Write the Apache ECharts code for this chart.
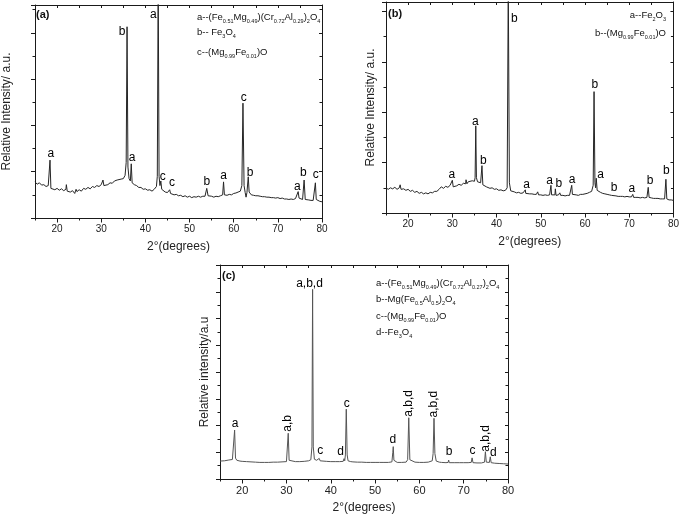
<!DOCTYPE html>
<html>
<head>
<meta charset="utf-8">
<script src="https://cdn.jsdelivr.net/npm/echarts@6/dist/echarts.min.js"></script>
<style>
html,body{margin:0;padding:0;background:#fff;}
#chart{width:682px;height:518px;}
</style>
</head>
<body>
<div id="chart"></div>
<script>
// ---------------- DATA ----------------
const degreeTicks = [20, 30, 40, 50, 60, 70, 80];

// Panel (a) pattern: [2theta, intensity]
const patternA = [[15,0.78],[15.5,0.73],[16,0.76],[16.5,0.71],[17,0.72],[17.5,0.68],[18,0.70],[18.2,0.66],[18.4,1.25],[18.6,0.64],[19,0.66],[19.5,0.61],[20,0.64],[20.5,0.60],[21,0.63],[21.5,0.59],[22,0.62],[22.1,0.72],[22.3,0.58],[22.5,0.60],[23,0.56],[23.5,0.59],[24,0.53],[24.3,0.62],[24.5,0.57],[25,0.61],[25.5,0.58],[26,0.64],[26.5,0.62],[27,0.66],[27.5,0.63],[28,0.68],[28.5,0.66],[29,0.70],[29.5,0.68],[30,0.72],[30.4,0.82],[30.6,0.70],[31,0.74],[31.5,0.72],[32,0.76],[32.5,0.75],[33,0.80],[33.3,0.76],[33.6,0.82],[34,0.80],[34.5,0.84],[35,0.85],[35.4,0.92],[35.65,1.2],[35.85,4.13],[36.05,1.1],[36.3,0.85],[36.6,0.80],[36.8,1.17],[37.0,0.76],[37.5,0.72],[38,0.70],[38.5,0.66],[39,0.66],[39.5,0.62],[40,0.63],[40.5,0.60],[41,0.61],[41.5,0.58],[42,0.62],[42.5,0.68],[42.7,0.9],[42.9,5.2],[43.1,0.9],[43.3,0.70],[43.5,0.80],[43.7,0.62],[44,0.58],[44.5,0.56],[45,0.55],[45.5,0.61],[45.7,0.53],[46,0.53],[46.5,0.50],[47,0.51],[47.5,0.48],[48,0.49],[48.5,0.46],[49,0.48],[49.5,0.45],[50,0.47],[50.5,0.44],[51,0.46],[51.5,0.45],[52,0.47],[52.5,0.45],[53,0.47],[53.5,0.47],[53.9,0.64],[54.2,0.48],[54.5,0.46],[55,0.47],[55.5,0.45],[56,0.47],[56.5,0.46],[57,0.48],[57.5,0.50],[57.7,0.78],[57.9,0.50],[58.5,0.49],[59,0.51],[59.5,0.50],[60,0.53],[60.5,0.54],[61,0.56],[61.5,0.58],[61.85,0.7],[62.1,2.48],[62.35,0.7],[62.6,0.55],[62.8,0.45],[63.0,0.55],[63.3,0.89],[63.5,0.56],[64,0.50],[64.5,0.49],[65,0.48],[65.5,0.48],[66,0.47],[66.5,0.46],[67,0.46],[67.5,0.45],[68,0.45],[68.5,0.44],[69,0.44],[69.5,0.43],[70,0.44],[70.5,0.42],[71,0.43],[71.5,0.41],[72,0.41],[72.5,0.40],[73,0.41],[73.5,0.40],[74,0.42],[74.4,0.44],[74.6,0.57],[74.8,0.43],[75.2,0.41],[75.6,0.40],[75.95,0.82],[76.2,0.40],[76.5,0.39],[77,0.39],[77.5,0.38],[78,0.38],[78.3,0.40],[78.5,0.76],[78.7,0.40],[79,0.37],[79.5,0.36],[80,0.35]];
// Peak labels (a): [2theta, label height, text]
const peakLabelsA = [[18.6,1.38,'a'],[34.7,4.02,'b'],[37.0,1.30,'a'],[41.8,4.38,'a'],[43.95,0.89,'c'],[46.0,0.76,'c'],[53.9,0.78,'b'],[57.7,0.91,'a'],[62.3,2.59,'c'],[63.7,0.97,'b'],[74.4,0.67,'a'],[75.8,0.97,'b'],[78.6,0.93,'c']];

// Panel (b) pattern
const patternB = [[15,0.50],[15.5,0.47],[16,0.50],[16.5,0.48],[17,0.51],[17.5,0.47],[18,0.50],[18.2,0.56],[18.4,0.47],[19,0.48],[19.5,0.45],[20,0.47],[20.5,0.43],[21,0.45],[21.5,0.41],[22,0.43],[22.5,0.39],[23,0.41],[23.5,0.38],[24,0.40],[24.5,0.38],[25,0.41],[25.5,0.40],[26,0.43],[26.5,0.43],[27,0.47],[27.5,0.52],[28,0.49],[28.5,0.53],[29,0.51],[29.5,0.55],[29.9,0.52],[30.0,0.65],[30.2,0.52],[30.5,0.55],[31,0.54],[31.5,0.57],[32,0.55],[32.5,0.59],[33,0.58],[33.1,0.66],[33.3,0.58],[33.6,0.62],[34,0.60],[34.5,0.64],[35,0.63],[35.15,0.7],[35.3,1.73],[35.45,0.7],[35.7,0.62],[36,0.60],[36.4,0.60],[36.7,0.94],[36.9,0.56],[37.3,0.55],[37.7,0.52],[38,0.52],[38.5,0.49],[39,0.50],[39.5,0.47],[40,0.48],[40.5,0.45],[41,0.46],[41.5,0.44],[42,0.45],[42.4,0.5],[42.65,4.6],[42.9,0.6],[43.2,0.44],[43.6,0.41],[44,0.42],[44.5,0.40],[45,0.41],[45.5,0.39],[46,0.40],[46.4,0.41],[46.5,0.46],[46.6,0.39],[47,0.39],[47.5,0.38],[48,0.38],[48.5,0.37],[49,0.37],[49.3,0.42],[49.5,0.36],[50,0.36],[50.5,0.35],[51,0.36],[51.5,0.35],[52,0.36],[52.2,0.38],[52.3,0.55],[52.45,0.36],[52.8,0.35],[53.2,0.36],[53.3,0.48],[53.45,0.35],[54,0.36],[54.3,0.40],[54.5,0.35],[55,0.35],[55.5,0.34],[56,0.35],[56.5,0.35],[56.85,0.37],[57.0,0.55],[57.15,0.37],[57.5,0.36],[58,0.36],[58.5,0.35],[59,0.37],[59.5,0.37],[60,0.38],[60.5,0.39],[61,0.41],[61.5,0.43],[61.85,0.55],[62.05,2.41],[62.25,0.6],[62.4,0.5],[62.55,0.69],[62.75,0.45],[63,0.42],[63.5,0.41],[64,0.39],[64.5,0.38],[65,0.37],[65.5,0.36],[66,0.35],[66.2,0.38],[66.4,0.34],[67,0.34],[67.5,0.33],[68,0.33],[68.5,0.33],[69,0.32],[69.5,0.33],[70,0.32],[70.5,0.32],[70.8,0.37],[71,0.31],[71.5,0.31],[72,0.31],[72.5,0.30],[73,0.31],[73.5,0.30],[74,0.31],[74.3,0.51],[74.5,0.31],[75,0.30],[75.5,0.29],[76,0.29],[76.5,0.29],[77,0.28],[77.5,0.28],[78,0.28],[78.3,0.67],[78.5,0.28],[79,0.26],[79.5,0.26],[80,0.25]];
const peakLabelsB = [[44.0,3.86,'b'],[62.2,2.54,'b'],[35.2,1.81,'a'],[37.0,1.03,'b'],[29.9,0.77,'a'],[46.8,0.56,'a'],[52.0,0.65,'a'],[54.1,0.59,'b'],[57.1,0.67,'a'],[63.5,0.77,'a'],[66.6,0.51,'b'],[70.6,0.48,'a'],[74.7,0.65,'b'],[78.4,0.84,'b']];

// Panel (c) pattern
const patternC = [[15,0.67],[16,0.68],[17,0.71],[17.8,0.73],[18.1,0.78],[18.3,1.83],[18.5,0.78],[18.8,0.70],[19.5,0.67],[20,0.66],[21,0.65],[22,0.64],[23,0.63],[24,0.62],[25,0.62],[26,0.62],[27,0.63],[28,0.63],[29,0.64],[30,0.65],[30.2,0.68],[30.4,1.71],[30.6,0.70],[30.9,0.66],[32,0.65],[33,0.65],[34,0.66],[35,0.68],[35.5,0.72],[35.75,1.2],[35.9,7.09],[36.05,1.2],[36.3,0.74],[36.8,0.70],[37.2,0.69],[37.4,0.77],[37.6,0.68],[38,0.67],[39,0.66],[40,0.65],[41,0.65],[42,0.65],[42.8,0.66],[43.0,0.76],[43.15,0.68],[43.3,0.9],[43.5,2.61],[43.7,0.9],[43.9,0.68],[44.5,0.65],[45,0.64],[46,0.63],[47,0.63],[48,0.62],[49,0.62],[50,0.62],[51,0.62],[52,0.62],[53,0.62],[53.8,0.64],[54.0,1.0],[54.1,1.21],[54.25,0.7],[54.5,0.63],[55,0.62],[56,0.62],[57,0.63],[57.35,0.72],[57.6,2.29],[57.85,0.72],[58.2,0.65],[59,0.63],[60,0.62],[61,0.62],[62,0.63],[62.9,0.68],[63.1,0.95],[63.3,2.27],[63.5,0.95],[63.8,0.67],[64.5,0.63],[65,0.62],[66,0.61],[66.5,0.62],[66.6,0.71],[66.75,0.61],[67,0.61],[68,0.61],[69,0.61],[70,0.61],[71,0.61],[71.7,0.62],[71.9,0.79],[72.1,0.61],[73,0.60],[74,0.60],[74.7,0.63],[74.9,1.02],[75.1,0.63],[75.5,0.61],[75.8,0.62],[76.0,0.83],[76.2,0.61],[77,0.59],[78,0.58],[79,0.57],[80,0.56]];
const peakLabelsC = [[18.4,2.06,'a'],[35.2,7.32,'a,b,d'],[37.6,1.06,'c'],[42.2,1.01,'d'],[43.6,2.83,'c'],[54.0,1.46,'d'],[66.7,1.01,'b'],[72.0,1.05,'c'],[76.7,1.00,'d']];
const peakLabelsCVertical = [[30.3,2.08,'a,b'],[57.65,2.83,'a,b,d'],[63.3,2.80,'a,b,d'],[74.96,1.52,'a,b,d']];

const legendA = ['a--(Fe_0.51_Mg_0.49_)(Cr_0.72_Al_0.29_)_2_O_4_', 'b-- Fe_3_O_4_', 'c--(Mg_0.99_Fe_0.01_)O'];
const legendB = ['a--Fe_2_O_3_', 'b--(Mg_0.99_Fe_0.01_)O'];
const legendC = ['a--(Fe_0.51_Mg_0.49_)(Cr_0.72_Al_0.27_)_2_O_4_', 'b--Mg(Fe_0.5_Al_0.5_)_2_O_4_', 'c--(Mg_0.99_Fe_0.01_)O', 'd--Fe_3_O_4_'];

// ---------------- CHART ----------------
const FONT = 'Liberation Sans, Arial, sans-serif';
const INK = '#1a1a1a';
const panels = [
  {grid:{left:33, top:5, width:289, height:213}, ymax:4.6, data:patternA, labels:peakLabelsA, vlabels:[], color:'#262626',
   yName:'Relative Intensity/ a.u.', yGap:22, tickFont:10, labMargin:6},
  {grid:{left:386, top:2, width:289, height:211}, ymax:4.19, data:patternB, labels:peakLabelsB, vlabels:[], color:'#262626',
   yName:'Relative Intensity/ a.u.', yGap:9, tickFont:10, labMargin:6},
  {grid:{left:220, top:265, width:288, height:214}, ymax:8, data:patternC, labels:peakLabelsC, vlabels:peakLabelsCVertical, color:'#555555',
   yName:'Relative intensity/a.u', yGap:9, tickFont:11, labMargin:6}
];

const grids = [], xAxes = [], yAxes = [], series = [];
panels.forEach((p, i) => {
  grids.push(p.grid);
  const line = {lineStyle:{color:INK, width:1}};
  xAxes.push({
    gridIndex:i, type:'value', position:'bottom', min:15, max:80, interval:5,
    axisLine:{show:true, ...line, onZero:false},
    axisTick:{show:true, length:2.5, lineStyle:{color:INK}},
    axisLabel:{show:true, fontSize:p.tickFont, fontFamily:FONT, color:'#222', margin:p.labMargin,
      formatter: v => (v % 10 === 0 ? String(v) : '')},
    splitLine:{show:false},
    name:'2°(degrees)', nameLocation:'middle', nameGap:23,
    nameTextStyle:{fontSize:12, fontFamily:FONT, color:'#222'}
  });
  xAxes.push({
    gridIndex:i, type:'value', position:'bottom', min:15, max:80,
    axisLine:{show:false},
    axisTick:{show:true, length:4.5, customValues:degreeTicks, lineStyle:{color:INK}},
    axisLabel:{show:false}, splitLine:{show:false}
  });
  xAxes.push({
    gridIndex:i, type:'value', position:'top', min:15, max:80, interval:5,
    axisLine:{show:true, ...line, onZero:false},
    axisTick:{show:true, inside:true, length:3, lineStyle:{color:INK}},
    axisLabel:{show:false}, splitLine:{show:false}
  });
  yAxes.push({
    gridIndex:i, type:'value', position:'left', min:0, max:p.ymax, interval:1,
    axisLine:{show:true, ...line, onZero:false},
    axisTick:{show:true, length:4, lineStyle:{color:INK}},
    minorTick:{show:true, splitNumber:2, length:2.5, lineStyle:{color:INK}},
    axisLabel:{show:false}, splitLine:{show:false}, minorSplitLine:{show:false},
    name:p.yName, nameLocation:'middle', nameGap:p.yGap,
    nameTextStyle:{fontSize:12, fontFamily:FONT, color:'#222'}
  });
  yAxes.push({
    gridIndex:i, type:'value', position:'right', min:0, max:p.ymax, interval:1,
    axisLine:{show:true, ...line, onZero:false},
    axisTick:{show:true, inside:true, length:3, lineStyle:{color:INK}},
    minorTick:{show:true, splitNumber:2, length:2.5, lineStyle:{color:INK}},
    axisLabel:{show:false}, splitLine:{show:false}
  });
  series.push({
    type:'line', xAxisIndex:3*i, yAxisIndex:2*i, data:p.data,
    showSymbol:false, symbol:'none', smooth:false, clip:true, silent:true,
    lineStyle:{color:p.color, width:1}, z:3
  });
  const labelSeries = (arr, rotate) => ({
    type:'scatter', xAxisIndex:3*i, yAxisIndex:2*i, data:arr, symbol:'circle', symbolSize:1, silent:true,
    itemStyle:{color:'#fff', opacity:1}, z:5, clip:false,
    label:{show:true, position:'inside', rotate:rotate, formatter: q => q.value[2],
      fontSize:12, fontFamily:FONT, color:'#000', opacity:1, textBorderWidth:0},
    labelLayout:{hideOverlap:false}
  });
  series.push(labelSeries(p.labels, 0));
  if (p.vlabels.length) series.push(labelSeries(p.vlabels, 90));
});

// rich-text chemical formulas
const rich = {
  m:{fontSize:9.5, fontFamily:FONT, fill:'#111', lineHeight:14, verticalAlign:'middle'},
  s:{fontSize:5.5, fontFamily:FONT, fill:'#111', lineHeight:14, verticalAlign:'bottom'}
};
function chem(str){
  return str.split('_').map((t, k) => t === '' ? '' : (k % 2 === 0 ? '{m|' + t + '}' : '{s|' + t + '}')).join('');
}
const graphics = [];
function addText(text, x, y, align){
  graphics.push({type:'text', x:x, y:y, silent:true, z:10,
    style:{text:text, rich:rich, align:align || 'left', verticalAlign:'middle', fill:'#111'}});
}
legendA.forEach((t, k) => addText(chem(t), 197, [17, 32, 52][k]));
legendB.forEach((t, k) => addText(chem(t), 666, [15, 33][k], 'right'));
legendC.forEach((t, k) => addText(chem(t), 376, [283, 299, 316, 332][k]));
[[36, 15, '(a)'], [388, 14, '(b)'], [222, 276, '(c)']].forEach(([x, y, t]) => {
  graphics.push({type:'text', x:x, y:y, silent:true, z:10,
    style:{text:t, font:'bold 11px ' + FONT, fill:'#111', verticalAlign:'middle'}});
});

const chart = echarts.init(document.getElementById('chart'), null, {renderer:'canvas'});
chart.setOption({
  animation:false,
  backgroundColor:'#fff',
  grid:grids, xAxis:xAxes, yAxis:yAxes, series:series, graphic:graphics
});
</script>
</body>
</html>
